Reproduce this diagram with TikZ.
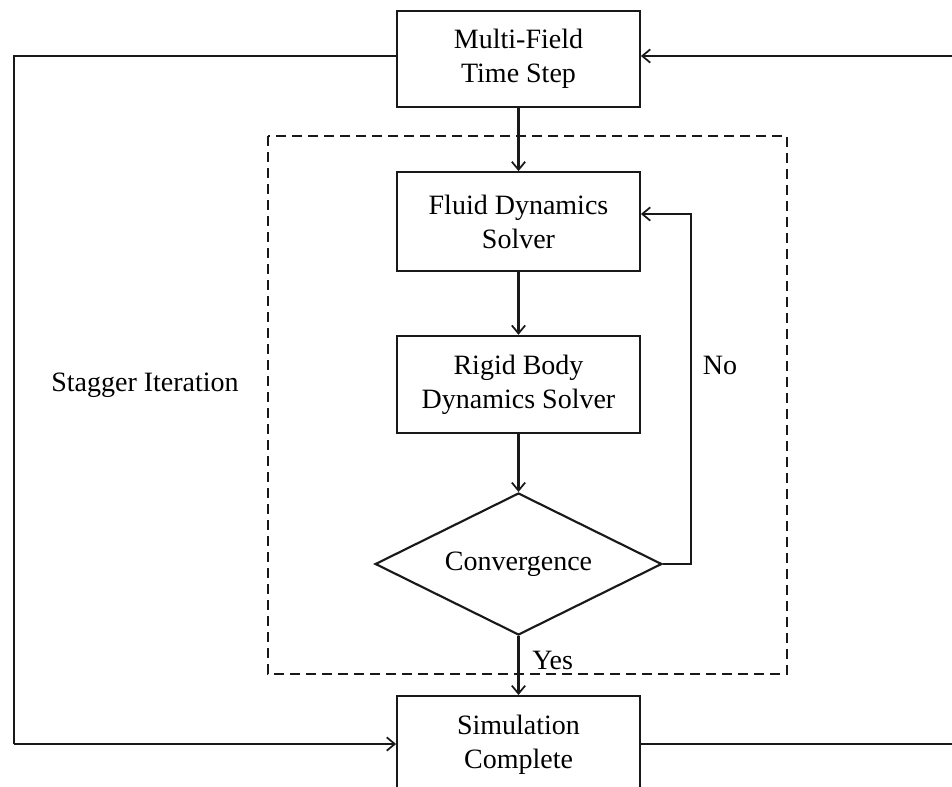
\documentclass[tikz,border=0pt]{standalone}
\usepackage{fontspec}
\setmainfont{Liberation Serif}
\usetikzlibrary{arrows.meta,shapes.geometric,calc}
\tikzset{
  every picture/.style={x=0.75pt,y=-0.75pt},
  ln/.style={line width=1.6pt,draw=black!90},
  arr/.style={ln,-{Straight Barb[length=6pt,width=10pt,line width=1.3pt]}},
  txt/.style={font=\fontsize{21}{25.5}\selectfont},
  procbox/.style={ln,txt,rectangle,minimum width=182pt,inner sep=0pt,align=center},
  decbox/.style={ln,txt,diamond,shape aspect=2,minimum width=215pt,minimum height=106.5pt,inner sep=0pt},
  lbl/.style={txt,inner sep=0pt},
  dashbox/.style={line width=1.6pt,draw=black!90,dash pattern=on 7.5pt off 4.5pt}
}
\begin{document}
\begin{tikzpicture}
\clip (0,0) rectangle (952,787);
\fill[white] (0,0) rectangle (952,787);
% dashed stagger box
\draw[dashbox] (268,136) rectangle (787,674);
% nodes
\node[procbox,minimum height=72pt] (top) at (518.5,59) {Multi-Field\\Time Step};
\node[procbox,minimum height=74pt] (fluid) at (518.5,221.5) {Fluid Dynamics\\Solver};
\node[procbox,minimum height=73pt] (rigid) at (518.5,384.5) {Rigid Body\\Dynamics Solver};
\node[decbox] (conv) at (518.5,564) {Convergence};
\node[procbox,minimum height=73pt,anchor=north] (sim) at (518.5,695) {Simulation\\Complete};
\node[lbl] (stag) at (145,385) {Stagger Iteration};
\node[lbl] (no) at (720,365) {No};
\node[lbl,anchor=west] (yes) at (532,660) {Yes};
% coordinates
\coordinate (loopTop) at (691,214);
\coordinate (leftTop) at (14,56);
\coordinate (leftBot) at (14,744);
\coordinate (rightTop) at (953,56);
\coordinate (rightBot) at (953,744);
% connectors
\draw[arr] (top.south) -- (fluid.north);
\draw[arr] (fluid.south) -- (rigid.north);
\draw[arr] (rigid.south) -- (conv.north);
\draw[arr] (conv.south) -- (sim.north);
\draw[arr] (conv.east) -| (loopTop) -- (fluid.east |- loopTop);
\draw[ln] (top.west |- leftTop) -- (leftTop) -- (leftBot);
\draw[arr] (leftBot) -- (sim.west |- leftBot);
\draw[arr] (rightTop) -- (top.east |- rightTop);
\draw[ln] (sim.east |- rightBot) -- (rightBot);
\end{tikzpicture}
\end{document}
